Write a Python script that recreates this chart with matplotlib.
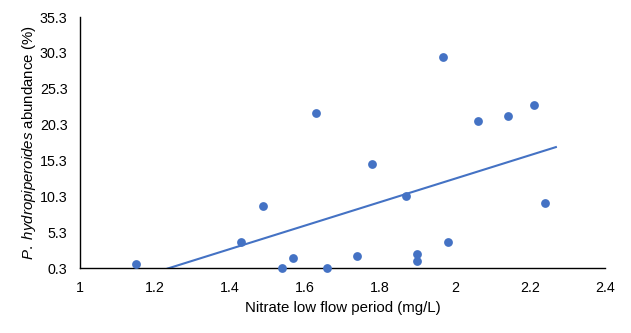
import numpy as np
import matplotlib
matplotlib.use("Agg")
import matplotlib.pyplot as plt
from matplotlib.ticker import FormatStrFormatter, FuncFormatter

# -----------------------
# Data
# -----------------------
nitrate = [1.149, 1.430, 1.488, 1.539, 1.568, 1.629, 1.659, 1.739, 1.779,
           1.869, 1.899, 1.899, 1.968, 1.981, 2.061, 2.141, 2.211, 2.240]
abundance = [0.9, 4.0, 9.0, 0.3, 1.8, 22.0, 0.3, 2.0, 14.8,
             10.4, 2.3, 1.3, 29.7, 4.0, 20.9, 21.5, 23.0, 9.4]

# linear trendline end points
trend_x = [1.234, 2.269]
trend_y = [0.3, 17.2]

x_ticks = [1.0, 1.2, 1.4, 1.6, 1.8, 2.0, 2.2, 2.4]
y_ticks = [0.3, 5.3, 10.3, 15.3, 20.3, 25.3, 30.3, 35.3]

# -----------------------
# Style
# -----------------------
plt.rcParams['font.family'] = ['Liberation Sans', 'DejaVu Sans']
plt.rcParams['mathtext.fontset'] = 'custom'
plt.rcParams['mathtext.rm'] = 'Liberation Sans'
plt.rcParams['mathtext.it'] = 'Liberation Sans:italic'

blue = '#4472C4'

fig = plt.figure(figsize=(6.31, 3.33), dpi=100)
ax = fig.add_axes([0.1268, 0.1937, 0.832, 0.755])

ax.scatter(nitrate, abundance, s=40, color=blue, zorder=3, clip_on=False, linewidths=0)
ax.plot(trend_x, trend_y, color=blue, linewidth=1.5, zorder=2)

ax.set_xlim(1.0, 2.4)
ax.set_ylim(0.3, 35.3)
ax.set_xticks(x_ticks)
ax.set_yticks(y_ticks)
ax.xaxis.set_major_formatter(FuncFormatter(lambda v, p: f"{v:g}"))
ax.yaxis.set_major_formatter(FormatStrFormatter('%.1f'))
ax.tick_params(length=0, labelsize=10.3, colors='black')
ax.tick_params(axis='x', pad=9)
ax.tick_params(axis='y', pad=9)

for side in ['top', 'right']:
    ax.spines[side].set_visible(False)
for side in ['left', 'bottom']:
    ax.spines[side].set_color('black')
    ax.spines[side].set_linewidth(1.0)

ax.set_xlabel("Nitrate low flow period (mg/L)", fontsize=10.8, labelpad=4)
ax.set_ylabel(r"$\it{P.\ hydropiperoides}$ abundance (%)", fontsize=10.8, labelpad=1.5)

fig.savefig("out.png", dpi=100)
